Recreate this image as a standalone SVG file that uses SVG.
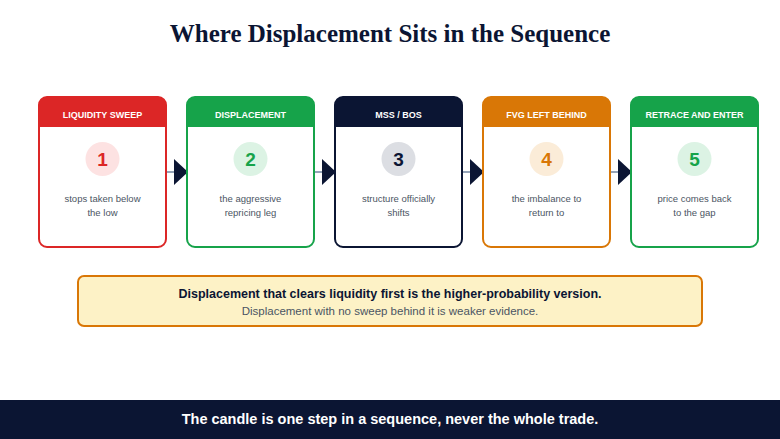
<svg xmlns="http://www.w3.org/2000/svg" width="780" height="439" viewBox="0 0 780 439">
<style>
.ttl{font-family:"Liberation Serif",serif;font-weight:bold;font-size:25px;fill:#0b1533;text-anchor:middle}
.hd{font-family:"Liberation Sans",Arial,sans-serif;font-weight:bold;font-size:9px;fill:#fff;text-anchor:middle}
.num{font-family:"Liberation Sans",Arial,sans-serif;font-weight:bold;font-size:19px;text-anchor:middle}
.ds{font-family:"Liberation Sans",Arial,sans-serif;font-size:9.5px;fill:#4b5563;text-anchor:middle}
.card{fill:#fff;stroke-width:2}
.conn line{stroke:#94a3b8;stroke-width:2}
.conn polygon{fill:#0b1533}
</style>
<rect width="780" height="439" fill="#fff"/>
<text class="ttl" x="390" y="42">Where Displacement Sits in the Sequence</text>
<g class="conn">
<line x1="166" y1="172" x2="176" y2="172"/><polygon points="174,159 188,172 174,185"/>
<line x1="314" y1="172" x2="324" y2="172"/><polygon points="322,159 336,172 322,185"/>
<line x1="462" y1="172" x2="472" y2="172"/><polygon points="470,159 484,172 470,185"/>
<line x1="610" y1="172" x2="620" y2="172"/><polygon points="618,159 632,172 618,185"/>
</g>
<g id="n1">
<rect class="card" x="39" y="97" width="127" height="150" rx="8" stroke="#dc2626"/>
<path d="M39,127 V105 a8,8 0 0 1 8,-8 H158 a8,8 0 0 1 8,8 V127 Z" fill="#dc2626"/>
<text class="hd" x="102.5" y="118">LIQUIDITY SWEEP</text>
<circle cx="102.5" cy="159" r="17" fill="#fde2e2"/>
<text class="num" x="102.5" y="166" fill="#dc2626">1</text>
<text class="ds" x="102.5" y="202">stops taken below</text>
<text class="ds" x="102.5" y="216">the low</text>
</g>
<g id="n2">
<rect class="card" x="187" y="97" width="127" height="150" rx="8" stroke="#16a34a"/>
<path d="M187,127 V105 a8,8 0 0 1 8,-8 H306 a8,8 0 0 1 8,8 V127 Z" fill="#16a34a"/>
<text class="hd" x="250.5" y="118">DISPLACEMENT</text>
<circle cx="250.5" cy="159" r="17" fill="#dcf3e4"/>
<text class="num" x="250.5" y="166" fill="#16a34a">2</text>
<text class="ds" x="250.5" y="202">the aggressive</text>
<text class="ds" x="250.5" y="216">repricing leg</text>
</g>
<g id="n3">
<rect class="card" x="335" y="97" width="127" height="150" rx="8" stroke="#0b1533"/>
<path d="M335,127 V105 a8,8 0 0 1 8,-8 H454 a8,8 0 0 1 8,8 V127 Z" fill="#0b1533"/>
<text class="hd" x="398.5" y="118">MSS / BOS</text>
<circle cx="398.5" cy="159" r="17" fill="#dcdee3"/>
<text class="num" x="398.5" y="166" fill="#0b1533">3</text>
<text class="ds" x="398.5" y="202">structure officially</text>
<text class="ds" x="398.5" y="216">shifts</text>
</g>
<g id="n4">
<rect class="card" x="483" y="97" width="127" height="150" rx="8" stroke="#d97706"/>
<path d="M483,127 V105 a8,8 0 0 1 8,-8 H602 a8,8 0 0 1 8,8 V127 Z" fill="#d97706"/>
<text class="hd" x="546.5" y="118">FVG LEFT BEHIND</text>
<circle cx="546.5" cy="159" r="17" fill="#fbecd8"/>
<text class="num" x="546.5" y="166" fill="#d97706">4</text>
<text class="ds" x="546.5" y="202">the imbalance to</text>
<text class="ds" x="546.5" y="216">return to</text>
</g>
<g id="n5">
<rect class="card" x="631" y="97" width="127" height="150" rx="8" stroke="#16a34a"/>
<path d="M631,127 V105 a8,8 0 0 1 8,-8 H750 a8,8 0 0 1 8,8 V127 Z" fill="#16a34a"/>
<text class="hd" x="694.5" y="118">RETRACE AND ENTER</text>
<circle cx="694.5" cy="159" r="17" fill="#dcf3e4"/>
<text class="num" x="694.5" y="166" fill="#16a34a">5</text>
<text class="ds" x="694.5" y="202">price comes back</text>
<text class="ds" x="694.5" y="216">to the gap</text>
</g>
<g id="note">
<rect x="78" y="276" width="624" height="50" rx="6" fill="#fdf2c6" stroke="#d97706" stroke-width="2"/>
<text x="390" y="298" font-family="Liberation Sans,Arial,sans-serif" font-weight="bold" font-size="12.5" fill="#0b1533" text-anchor="middle">Displacement that clears liquidity first is the higher-probability version.</text>
<text x="390" y="315" font-family="Liberation Sans,Arial,sans-serif" font-size="11.5" fill="#4b5563" text-anchor="middle">Displacement with no sweep behind it is weaker evidence.</text>
</g>
<g id="footer">
<rect x="0" y="400" width="780" height="39" fill="#0b1533"/>
<text x="390" y="424" font-family="Liberation Sans,Arial,sans-serif" font-weight="bold" font-size="14.5" fill="#fff" text-anchor="middle">The candle is one step in a sequence, never the whole trade.</text>
</g>
</svg>
